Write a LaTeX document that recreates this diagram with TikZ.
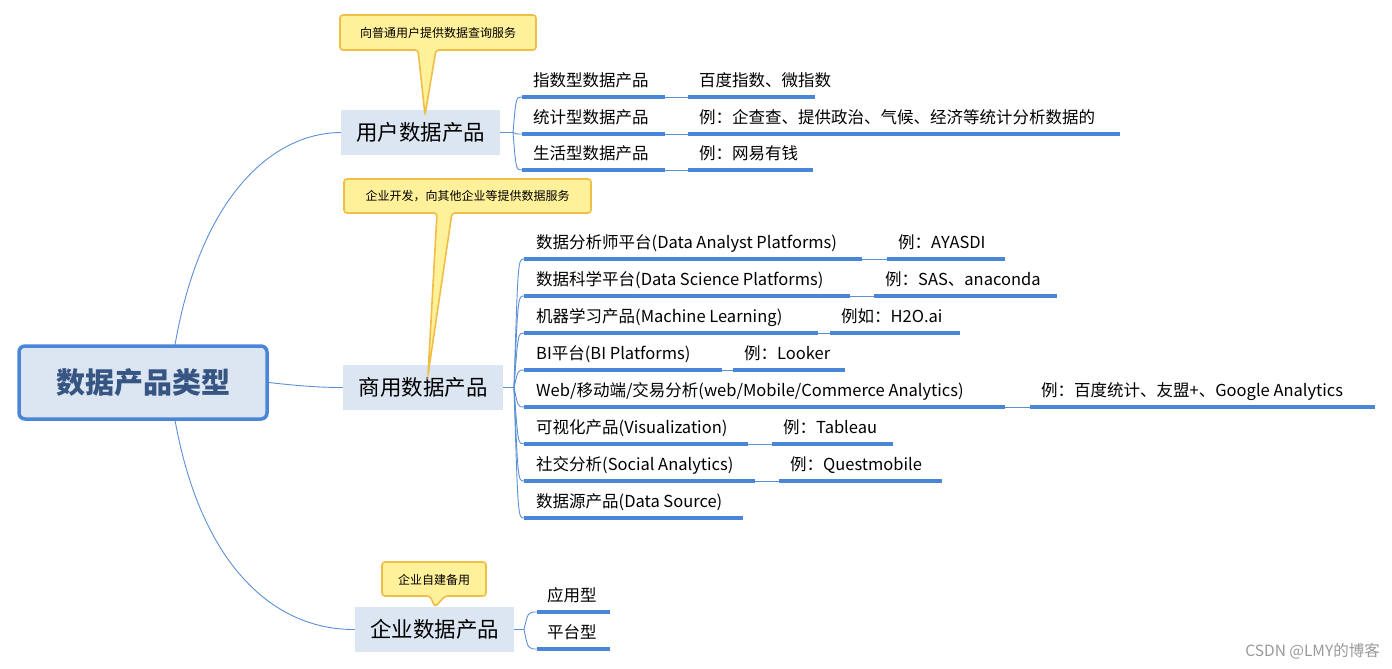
\documentclass[tikz,border=0pt]{standalone}
\usepackage{fontspec}
\setmainfont{Noto Sans CJK SC}
\begin{document}
\begin{tikzpicture}[x=1pt,y=-1pt,
  conn/.style={draw={rgb,255:red,91;green,143;blue,214}, line width=0.9pt},
  ul/.style={draw={rgb,255:red,74;green,134;blue,216}, line width=3.2pt},
  topic/.style={fill={rgb,255:red,220;green,230;blue,242}, font=\fontsize{21.5}{24}\selectfont, inner sep=0pt, minimum height=45pt},
  txt/.style={anchor=base west, font=\fontsize{16.5}{18}\selectfont, inner sep=0pt},
  callout/.style={fill={rgb,255:red,255;green,240;blue,154}, draw={rgb,255:red,240;green,190;blue,70}, line width=1.6pt, rounded corners=3pt},
  ctext/.style={font=\fontsize{12}{13}\selectfont, inner sep=0pt}]
\useasboundingbox (0,0) rectangle (1392,669);
% root
\node[draw={rgb,255:red,74;green,134;blue,216}, line width=3.5pt, rounded corners=6pt,
  fill={rgb,255:red,220;green,230;blue,242}, minimum width=248pt, minimum height=73pt,
  font=\fontsize{29}{32}\selectfont\bfseries, text={rgb,255:red,54;green,85;blue,130}] (root) at (143,382.5) {数据产品类型};
% topics
\node[topic, minimum width=159pt] (user) at (420.5,132.5) {用户数据产品};
\node[topic, minimum width=160pt] (biz) at (423,387.5) {商用数据产品};
\node[topic, minimum width=159pt] (ent) at (434.5,629.5) {企业数据产品};
\draw[conn] (175,345) .. controls (200,200) and (270,133) .. (user.west);
\draw[conn] (root.east) .. controls (300,386) and (320,387.5) .. (biz.west);
\draw[conn] (175,420) .. controls (200,560) and (270,630) .. (ent.west);
% callouts
\draw[callout] (340,15) -- (536,15) -- (536,50) -- (436,50) -- (425,115) -- (418,50) -- (340,50) -- cycle;
\node[ctext] (c1) at (438,33) {向普通用户提供数据查询服务};
\draw[callout] (344,179) -- (591,179) -- (591,213) -- (452,213) -- (428,375) -- (437,213) -- (344,213) -- cycle;
\node[ctext] (c2) at (467.5,196.5) {企业开发，向其他企业等提供数据服务};
\draw[callout] (382,562) -- (486,562) -- (486,596) -- (445,596) -- (435,607) -- (430,596) -- (382,596) -- cycle;
\node[ctext] (c3) at (434,579.5) {企业自建备用};
% user children
\coordinate (ub) at (513,132.5);
\draw[conn] (user.east) -- (ub);
\foreach \i/\y/\xe/\lab/\xs/\xf/\ex in {
  1/97/665/{指数型数据产品}/688/815/{百度指数、微指数},
  2/134/665/{统计型数据产品}/688/1120/{例：企查查、提供政治、气候、经济等统计分析数据的},
  3/170/665/{生活型数据产品}/688/813/{例：网易有钱}} {
  \coordinate (us\i) at (522,\y);
  \coordinate (ue\i) at (\xe,\y);
  \coordinate (xs\i) at (\xs,\y);
  \coordinate (xe\i) at (\xf,\y);
  \draw[conn] (ub) .. controls (516,\y) and (516,\y) .. (us\i);
  \draw[ul] (us\i) -- (ue\i);
  \draw[conn] (ue\i) -- (xs\i);
  \draw[ul] (xs\i) -- (xe\i);
  \node[txt] (ul\i) at (533,\y-11) {\lab};
  \node[txt] (ux\i) at (\xs+11,\y-11) {\ex};
}
% biz children
\coordinate (bb) at (514,387.5);
\draw[conn] (biz.east) -- (bb);
\foreach \i/\y/\xe/\lab/\xs/\xf/\ex in {
  1/259/862/{数据分析师平台(Data Analyst Platforms)}/887/1005/{例：AYASDI},
  2/296/850/{数据科学平台(Data Science Platforms)}/874/1057/{例：SAS、anaconda},
  3/333/818/{机器学习产品(Machine Learning)}/830/960/{例如：H2O.ai},
  4/370/722/{BI平台(BI Platforms)}/733/845/{例：Looker},
  5/407/1005/{Web/移动端/交易分析(web/Mobile/Commerce Analytics)}/1030/1375/{例：百度统计、友盟+、Google Analytics},
  6/444/748/{可视化产品(Visualization)}/772/893/{例：Tableau},
  7/481/755/{社交分析(Social Analytics)}/779/942/{例：Questmobile}} {
  \coordinate (bs\i) at (524,\y);
  \coordinate (be\i) at (\xe,\y);
  \coordinate (bxs\i) at (\xs,\y);
  \coordinate (bxe\i) at (\xf,\y);
  \draw[conn] (bb) .. controls (518,\y) and (518,\y) .. (bs\i);
  \draw[ul] (bs\i) -- (be\i);
  \draw[conn] (be\i) -- (bxs\i);
  \draw[ul] (bxs\i) -- (bxe\i);
  \node[txt] (bl\i) at (536,\y-11) {\lab};
  \node[txt] (bx\i) at (\xs+11,\y-11) {\ex};
}
\coordinate (bs8) at (524,518);
\coordinate (be8) at (743,518);
\draw[conn] (bb) .. controls (518,518) and (518,518) .. (bs8);
\draw[ul] (bs8) -- (be8);
\node[txt] (bl8) at (536,507) {数据源产品(Data Source)};
% enterprise children
\coordinate (eb) at (524,629.5);
\draw[conn] (ent.east) -- (eb);
\foreach \i/\y/\lab in {1/612/应用型,2/649/平台型} {
  \coordinate (es\i) at (537,\y);
  \coordinate (ee\i) at (610,\y);
  \draw[conn] (eb) .. controls (528,\y) and (528,\y) .. (es\i);
  \draw[ul] (es\i) -- (ee\i);
  \node[txt] (el\i) at (547,\y-11) {\lab};
}
\node[anchor=east, font=\fontsize{15.5}{17}\selectfont, text=black!40, inner sep=0pt] (wm) at (1380,651) {CSDN @LMY的博客};
\end{tikzpicture}
\end{document}
